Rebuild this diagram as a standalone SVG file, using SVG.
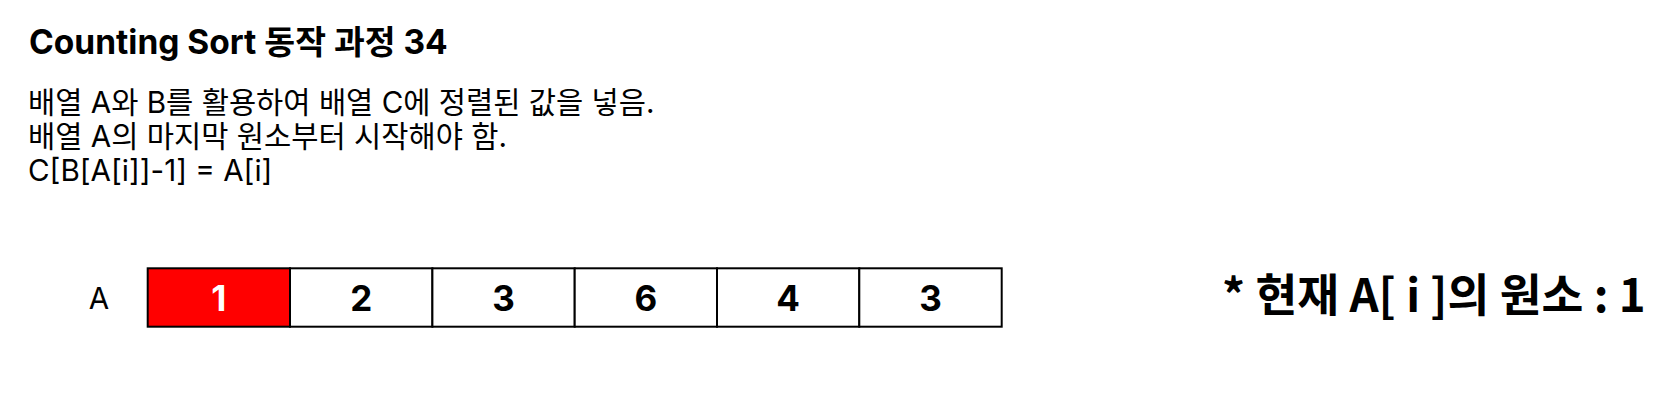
<svg xmlns="http://www.w3.org/2000/svg" width="1680" height="404" viewBox="0 0 1680 404">
<style>
text{font-family:Inter,"Noto Sans CJK KR",sans-serif;fill:#000}
.t{font-size:33.5px;font-weight:700}
.b{font-size:29.6px}
.c{fill:#fff;stroke:#000;stroke-width:2}
.n{font-size:35px;font-weight:700;text-anchor:middle}
.r{font-family:"Noto Sans CJK KR",sans-serif;font-size:45.5px;font-weight:700}
</style>
<rect width="1680" height="404" fill="#fff"/>
<g id="title"><text class="t" x="29" y="53.5">Counting Sort 동작 과정 34</text></g>
<g id="desc">
<text class="b" x="28" y="113">배열 A와 B를 활용하여 배열 C에 정렬된 값을 넣음.</text>
<text class="b" x="28" y="147">배열 A의 마지막 원소부터 시작해야 함.</text>
<text class="b" x="28" y="181">C[B[A[i]]-1] = A[i]</text>
</g>
<g id="labelA"><text class="b" x="99" y="309" text-anchor="middle">A</text></g>
<g id="arrayA">
<rect x="147.7" y="268.3" width="142.3" height="58.4" fill="#ff0000" stroke="#000" stroke-width="2"/>
<rect class="c" x="290" y="268.3" width="142.4" height="58.4"/>
<rect class="c" x="432.4" y="268.3" width="142.3" height="58.4"/>
<rect class="c" x="574.7" y="268.3" width="142.3" height="58.4"/>
<rect class="c" x="717" y="268.3" width="142.3" height="58.4"/>
<rect class="c" x="859.3" y="268.3" width="142.4" height="58.4"/>
<text class="n" x="218.9" y="310.7" style="fill:#fff">1</text>
<text class="n" x="361.2" y="310.7">2</text>
<text class="n" x="503.5" y="310.7">3</text>
<text class="n" x="645.8" y="310.7">6</text>
<text class="n" x="788.1" y="310.7">4</text>
<text class="n" x="930.5" y="310.7">3</text>
</g>
<g id="current"><text class="r" x="1222" y="311.7">* 현재 A[ i ]의 원소 : 1</text></g>
<g id="connectors"></g>
</svg>
